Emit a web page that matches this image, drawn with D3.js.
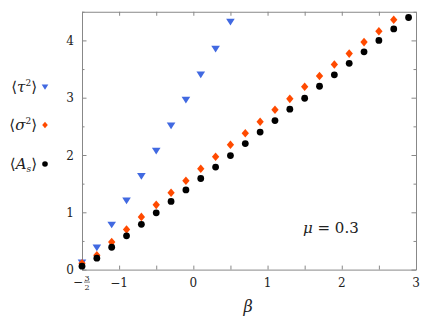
<!DOCTYPE html>
<html>
<head>
<meta charset="utf-8">
<script src="https://cdn.jsdelivr.net/npm/d3@7"></script>
<style>
  body { margin: 0; background: #fff; }
  .axis path, .axis line { stroke: #888; }
</style>
</head>
<body>
<div id="chart"></div>
<script>
// values
const betaTau = [-1.5, -1.3, -1.1, -0.9, -0.7, -0.5, -0.3, -0.1, 0.1, 0.3, 0.5];
const tau2 = [0.12, 0.38, 0.78, 1.20, 1.63, 2.07, 2.51, 2.96, 3.40, 3.85, 4.32];

const betaSigma = [-1.5, -1.3, -1.1, -0.9, -0.7, -0.5, -0.3, -0.1, 0.1, 0.3, 0.5,
                   0.7, 0.9, 1.1, 1.3, 1.5, 1.7, 1.9, 2.1, 2.3, 2.5, 2.7];
const sigma2 = [0.11, 0.25, 0.48, 0.70, 0.92, 1.13, 1.34, 1.55, 1.76, 1.97, 2.18,
                2.38, 2.58, 2.79, 2.98, 3.19, 3.38, 3.58, 3.77, 3.97, 4.16, 4.36];

const betaA = [-1.5, -1.3, -1.1, -0.9, -0.7, -0.5, -0.3, -0.1, 0.1, 0.3, 0.5,
               0.7, 0.9, 1.1, 1.3, 1.5, 1.7, 1.9, 2.1, 2.3, 2.5, 2.7, 2.9];
const As = [0.06, 0.20, 0.39, 0.59, 0.79, 0.99, 1.19, 1.39, 1.59, 1.79, 1.99,
            2.20, 2.40, 2.60, 2.80, 2.99, 3.20, 3.40, 3.60, 3.80, 4.00, 4.20, 4.40];

const xTicks = d3.range(-1.5, 3.01, 0.5);
const xTickLabels = [[-1, "\u22121"], [0, "0"], [1, "1"], [2, "2"], [3, "3"]];
const yTicks = d3.range(0, 4.51, 0.5);
const yTickLabels = [0, 1, 2, 3, 4];

const serif = 'DejaVu Serif';

const W = 436, H = 327;
const svg = d3.select('#chart').append('svg')
    .attr('width', W).attr('height', H)
    .attr('font-family', serif);

const x = d3.scaleLinear().domain([-1.5, 3]).range([82, 416]);
const y = d3.scaleLinear().domain([0, 4.5]).range([269.6, 11.75]);

// axes: ticks point inward on all four sides
svg.append('g').attr('class', 'axis')
    .attr('transform', `translate(0,${y(0)})`)
    .call(d3.axisBottom(x).tickValues(xTicks).tickSize(-4).tickFormat('').tickSizeOuter(0));
svg.append('g').attr('class', 'axis')
    .attr('transform', `translate(0,${y(4.5)})`)
    .call(d3.axisTop(x).tickValues(xTicks).tickSize(-4).tickFormat('').tickSizeOuter(0));

const yMajor = yTicks.filter(v => Number.isInteger(v));
const yMinor = yTicks.filter(v => !Number.isInteger(v));
[[yMajor, -4.5], [yMinor, -2.5]].forEach(([vals, len]) => {
    svg.append('g').attr('class', 'axis')
        .attr('transform', `translate(${x(-1.5)},0)`)
        .call(d3.axisLeft(y).tickValues(vals).tickSize(len).tickFormat('').tickSizeOuter(0));
    svg.append('g').attr('class', 'axis')
        .attr('transform', `translate(${x(3)},0)`)
        .call(d3.axisRight(y).tickValues(vals).tickSize(len).tickFormat('').tickSizeOuter(0));
});
svg.selectAll('.axis .domain').attr('stroke', '#888');

function txt(px, py, size) {
    return svg.append('text').attr('x', px).attr('y', py)
        .attr('font-family', serif).attr('font-size', size).attr('fill', '#222');
}

// tick labels
xTickLabels.forEach(d => {
    txt(x(d[0]), y(0) + 17, 12)
        .attr('text-anchor', 'middle').text(d[1]);
});

// -3/2 as a stacked fraction
const fx = x(-1.5) + 5;
txt(fx - 9, y(0) + 16, 12).attr('text-anchor', 'middle').text('\u2212');
txt(fx, y(0) + 11, 8).attr('text-anchor', 'middle').text('3');
svg.append('line').attr('x1', fx - 3).attr('x2', fx + 3)
    .attr('y1', y(0) + 12.5).attr('y2', y(0) + 12.5)
    .attr('stroke', '#222').attr('stroke-width', 0.6);
txt(fx, y(0) + 20.5, 8).attr('text-anchor', 'middle').text('2');

yTickLabels.forEach(d => {
    txt(x(-1.5) - 8, y(d) + 4.5, 12).attr('text-anchor', 'end').text(d);
});

// axis label
txt(248, 312, 16).attr('text-anchor', 'middle').attr('font-style', 'italic').text('\u03B2');

// annotation
const ann = txt(303, 233, 15);
ann.append('tspan').attr('font-style', 'italic').text('\u03BC');
ann.append('tspan').text(' = 0.3');

// marker shapes
const tri = s => `M${-s},${-s * 0.75}L${s},${-s * 0.75}L0,${s * 0.8}Z`;
const dia = s => `M0,${-s}L${s * 0.85},0L0,${s}L${-s * 0.85},0Z`;

const blue = '#4169e1', orange = '#ff4a00';

svg.append('g').selectAll('path')
    .data(betaTau.map((b, i) => [b, tau2[i]]))
    .enter().append('path')
    .attr('d', tri(4.3))
    .attr('transform', d => `translate(${x(d[0])},${y(d[1])})`)
    .attr('fill', blue);

svg.append('g').selectAll('path')
    .data(betaSigma.map((b, i) => [b, sigma2[i]]))
    .enter().append('path')
    .attr('d', dia(4.3))
    .attr('transform', d => `translate(${x(d[0])},${y(d[1])})`)
    .attr('fill', orange);

svg.append('g').selectAll('circle')
    .data(betaA.map((b, i) => [b, As[i]]))
    .enter().append('circle')
    .attr('cx', d => x(d[0]))
    .attr('cy', d => y(d[1]))
    .attr('r', 3.4)
    .attr('fill', '#000');

// legend on the left
const legend = [
    { y: 87, label: ['\u27E8', '\u03C4', '2', '\u27E9'], shape: 'tri' },
    { y: 125, label: ['\u27E8', '\u03C3', '2', '\u27E9'], shape: 'dia' },
    { y: 164, label: ['\u27E8', 'A', 's', '\u27E9'], shape: 'circ' }
];
legend.forEach(l => {
    const t = txt(37, l.y + 5, 15).attr('text-anchor', 'end');
    t.append('tspan').text(l.label[0]);
    t.append('tspan').attr('font-style', 'italic').text(l.label[1]);
    if (l.shape === 'circ') {
        t.append('tspan').attr('dy', 3).attr('font-size', 9).attr('font-style', 'italic').text(l.label[2]);
        t.append('tspan').attr('dy', -3).text(l.label[3]);
    } else {
        t.append('tspan').attr('dy', -6).attr('font-size', 9).text(l.label[2]);
        t.append('tspan').attr('dy', 6).text(l.label[3]);
    }
    if (l.shape === 'tri') {
        svg.append('path').attr('d', tri(3.3)).attr('transform', `translate(45,${l.y})`).attr('fill', blue);
    } else if (l.shape === 'dia') {
        svg.append('path').attr('d', dia(3.3)).attr('transform', `translate(45,${l.y})`).attr('fill', orange);
    } else {
        svg.append('circle').attr('cx', 45).attr('cy', l.y).attr('r', 2.8).attr('fill', '#000');
    }
});
</script>
</body>
</html>
